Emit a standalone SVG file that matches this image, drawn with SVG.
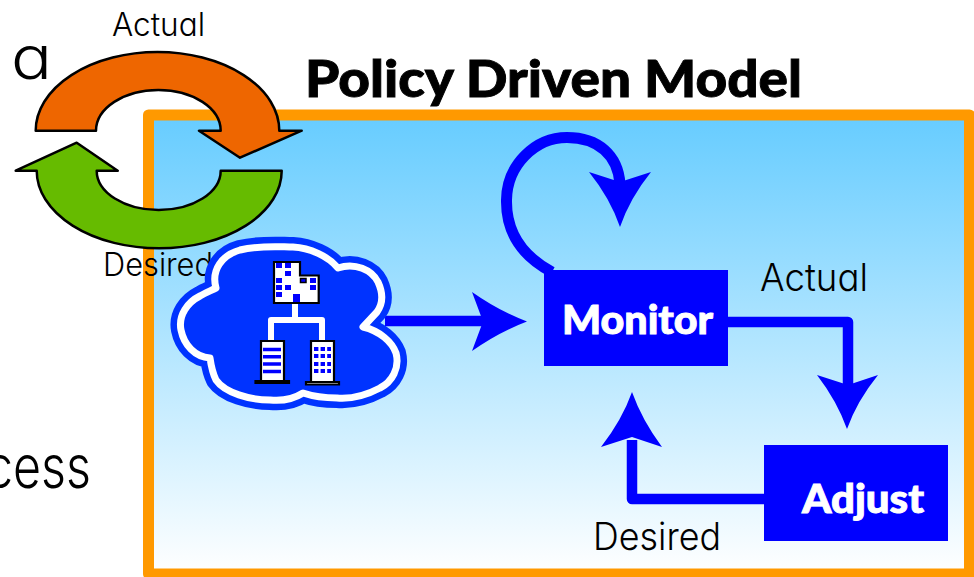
<svg xmlns="http://www.w3.org/2000/svg" width="974" height="577" viewBox="0 0 974 577">
<defs>
<linearGradient id="sky" x1="0" y1="0" x2="0" y2="1"><stop offset="0" stop-color="#66ccff"/><stop offset="1" stop-color="#ffffff"/></linearGradient>
<path id="cloudShape" d="M216 288C211 270 222 255 240 250C260 245 280 247 293 247C310 248 328 256 338 268C355 262 372 270 378 282C384 295 382 305 377 312L363 327C380 331 392 342 396 353C400 368 392 382 380 388C365 396 350 399 337 398C325 398 312 396 303 393C292 400 280 401 270 400C250 400 225 393 216 380C212 372 211 365 210 358C195 357 184 345 181 330C178 315 188 302 200 296C205 293 210 291 216 288Z"/>
</defs>
<style>
.f{font-family:"Inter","Lato","Liberation Sans",sans-serif;font-weight:300;font-feature-settings:"cv11" 1;fill:#000}
.h{font-family:"Lato","Liberation Sans",sans-serif;font-weight:900;stroke-width:.9}
.w{font-size:39px;fill:#fff;stroke:#fff}
.b{fill:#0000ff}
.c{fill:none;stroke:#0000ff;stroke-width:10.5;stroke-linejoin:round}
.k{stroke:#000;stroke-width:2.2;fill:#fff}
</style>
<rect width="974" height="577" fill="#fff"/>
<text class="f" x="-14" y="488" font-size="60" textLength="105" lengthAdjust="spacingAndGlyphs">cess</text>
<text class="f" x="11" y="79" font-size="60" textLength="41" lengthAdjust="spacingAndGlyphs">a</text>
<g id="panel"><rect x="148.5" y="115" width="821" height="459" fill="url(#sky)" stroke="#ff9900" stroke-width="11" stroke-linejoin="round"/></g>
<text class="h" x="305" y="97" font-size="51" fill="#000" stroke="#000" textLength="497" lengthAdjust="spacingAndGlyphs">Policy Driven Model</text>
<g id="connectors">
<path d="M552 272C520 255 506 230 506.5 200C507 165 535 137.5 567 137.5C598 137.5 618 155 620 184" fill="none" stroke="#0000ff" stroke-width="11"/>
<path class="b" d="M589 172L620 182L651 172Q630 198 620 227Q610 198 589 172Z"/>
<path class="c" d="M385 321H490"/>
<path class="b" d="M472 292L483 321.500L472 351Q499 332 527 321.500Q499 311 472 292Z"/>
<path class="c" d="M728 322H848V385"/>
<path class="b" d="M817 375L848 385L878 375Q857 401 847 429Q837 401 817 375Z"/>
<path class="c" d="M765 499H632V440"/>
<path class="b" d="M601 447L632 437L662 447Q642 420 632 392Q622 420 601 447Z"/>
</g>
<g id="monitor"><rect x="544" y="270" width="184" height="96" class="b"/><text class="h w" x="562" y="334" textLength="151" lengthAdjust="spacingAndGlyphs">Monitor</text></g>
<g id="adjust"><rect x="764" y="445" width="184" height="96" class="b"/><text class="h w" x="802" y="513" textLength="122" lengthAdjust="spacingAndGlyphs">Adjust</text></g>
<text class="f" x="760" y="291" font-size="38" textLength="108" lengthAdjust="spacingAndGlyphs">Actual</text>
<text class="f" x="593" y="550" font-size="38" textLength="128" lengthAdjust="spacingAndGlyphs">Desired</text>
<g id="cycle">
<path d="M35.7 130.7A121.8 78.7 0 0 1 279.3 130.7H301.7L240 157.7L199 130.7H220.7A62.3 40.7 0 0 0 96 130.7Z" fill="#ee6600" stroke="#000" stroke-width="2.5" stroke-linejoin="round"/>
<path d="M281.7 170.7A122.5 77.6 0 0 1 36.7 170.7H15.7L76.7 142.7L117.7 170.7H96.7A62 39.3 0 0 0 220.7 170.7Z" fill="#66bb00" stroke="#000" stroke-width="2.5" stroke-linejoin="round"/>
<text class="f" x="112" y="36" font-size="32" textLength="93" lengthAdjust="spacingAndGlyphs">Actual</text>
<text class="f" x="103" y="276" font-size="32" textLength="110" lengthAdjust="spacingAndGlyphs">Desired</text>
</g>
<g id="cloud">
<use href="#cloudShape" fill="#0033ff" stroke="#0033ff" stroke-width="20" stroke-linejoin="round"/>
<use href="#cloudShape" fill="#0033ff" stroke="#ffffff" stroke-width="7" stroke-linejoin="round"/>
<path d="M295 302V320M271 343V320H322V343" fill="none" stroke="#fff" stroke-width="6" stroke-linejoin="round"/>
<path class="k" d="M274 262H300V275.500H318.700V303H274Z"/>
<g class="b"><rect x="276" y="263" width="6" height="5"/><rect x="285" y="263" width="6" height="5"/><rect x="285" y="271" width="6" height="5"/><rect x="276" y="278" width="6" height="5"/><rect x="276" y="285" width="6" height="5"/><rect x="285" y="285" width="6" height="5"/><rect x="276" y="292" width="6" height="5"/><rect x="293" y="294" width="7" height="8"/><rect x="310" y="278" width="6" height="5"/><rect x="310" y="285" width="6" height="5"/></g>
<rect x="300.500" y="278.500" width="5.500" height="4" fill="#0000ff" stroke="#000" stroke-width="1.500"/>
<path class="k" d="M261 341H284V381H261Z"/><path class="k" d="M255.500 381H289V383H255.500Z"/>
<path d="M263 349.500H281M263 356.800H281M263 364H281M263 371.500H281" stroke="#0000ff" stroke-width="3.500"/>
<path class="k" d="M311 341H334V382H311Z"/><path class="k" d="M306 382H339V384.500H306Z"/>
<path d="M314 349H331M314 356H331M314 364H331M314 371H331" stroke="#0000ff" stroke-width="4.200" stroke-dasharray="4.400 2.200"/>
</g>
</svg>
